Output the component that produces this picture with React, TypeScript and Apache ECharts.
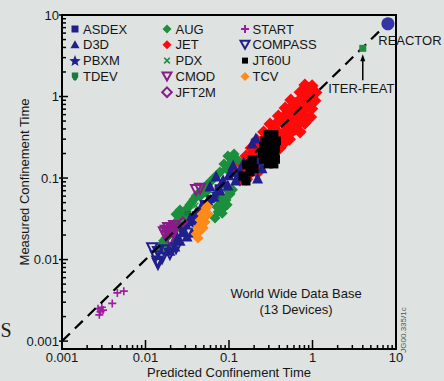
import React, { useEffect, useRef } from 'react';
import * as echarts from 'echarts';

const FONT = '"Liberation Sans", Arial, Helvetica, sans-serif';
const TEXT = '#161616';
const NAVY = '#20208c';
const GREEN = '#1c8f3c';
const RED = '#ff0a0a';
const PURPLE = '#8b1a8b';
const ORANGE = '#ff8a1a';
const BLACK = '#000000';

// axis decades (major ticks / labels) and minor tick multipliers
const DECADES = [0.001, 0.01, 0.1, 1, 10];
const MINOR_STEPS = [2, 3, 4, 5, 6, 7, 8, 9];

// [predicted, measured] confinement times (s)
const JET = [
  [0.81, 1.38], [0.99, 1.36], [0.9, 1.25],
  [0.71, 1.13], [0.87, 1.15], [1.1, 1.12], [0.78, 1.02], [0.97, 1.0],
  [0.55, 0.906], [0.71, 0.92], [0.87, 0.9], [1.07, 0.89], [0.62, 0.82], [0.78, 0.81], [0.95, 0.8],
  [0.47, 0.723], [0.55, 0.74], [0.71, 0.72], [0.85, 0.73], [0.98, 0.71], [0.51, 0.65], [0.63, 0.64], [0.76, 0.65],
  [0.39, 0.576], [0.47, 0.59], [0.55, 0.57], [0.69, 0.58], [0.83, 0.57], [0.95, 0.56], [0.43, 0.52], [0.6, 0.51], [0.74, 0.52],
  [0.31, 0.46], [0.37, 0.47], [0.46, 0.46], [0.53, 0.45], [0.67, 0.46], [0.81, 0.47], [0.35, 0.41], [0.5, 0.41], [0.62, 0.4],
  [0.26, 0.367], [0.32, 0.37], [0.39, 0.36], [0.47, 0.37], [0.55, 0.36], [0.71, 0.367], [0.29, 0.33], [0.43, 0.33],
  [0.215, 0.292], [0.26, 0.3], [0.32, 0.29], [0.39, 0.292], [0.47, 0.29], [0.53, 0.3], [0.24, 0.26], [0.44, 0.26],
  [0.184, 0.233], [0.22, 0.24], [0.27, 0.233], [0.33, 0.23], [0.41, 0.236], [0.2, 0.21],
  [0.16, 0.186], [0.19, 0.19], [0.235, 0.186], [0.285, 0.18], [0.33, 0.19], [0.175, 0.165],
  [0.14, 0.149], [0.166, 0.152], [0.205, 0.149], [0.25, 0.145],
  [0.12, 0.119], [0.15, 0.122], [0.184, 0.119], [0.22, 0.116],
  [0.135, 0.0945], [0.163, 0.097],
];

const JT60U = [
  [0.295, 0.34], [0.345, 0.34],
  [0.27, 0.285], [0.32, 0.285], [0.37, 0.285],
  [0.26, 0.24], [0.31, 0.24], [0.36, 0.24],
  [0.25, 0.2], [0.3, 0.2], [0.356, 0.2],
  [0.26, 0.17], [0.31, 0.17], [0.36, 0.17],
  [0.295, 0.149], [0.345, 0.149],
  [0.163, 0.145], [0.19, 0.166], [0.147, 0.106], [0.178, 0.119], [0.16, 0.092], [0.2, 0.13],
];

const AUG = [
  [0.097, 0.186], [0.115, 0.197], [0.127, 0.166], [0.087, 0.149], [0.103, 0.134],
  [0.078, 0.119], [0.066, 0.1], [0.056, 0.0845], [0.0475, 0.0712], [0.0403, 0.0601],
  [0.036, 0.0505], [0.032, 0.0428], [0.029, 0.0362], [0.0245, 0.0305], [0.022, 0.0258],
  [0.0196, 0.0217], [0.0176, 0.0184], [0.0158, 0.0155], [0.0186, 0.0147], [0.0232, 0.0173],
  [0.0274, 0.023], [0.0259, 0.0406], [0.0232, 0.036],
  [0.108, 0.16], [0.093, 0.13], [0.072, 0.109], [0.061, 0.092], [0.051, 0.077],
  [0.043, 0.065], [0.038, 0.055], [0.034, 0.047], [0.03, 0.04], [0.027, 0.033],
  [0.0235, 0.028], [0.021, 0.024], [0.0185, 0.02], [0.0165, 0.017],
  [0.066, 0.057], [0.078, 0.048], [0.092, 0.0537], [0.074, 0.0383], [0.086, 0.0428],
  [0.103, 0.0637], [0.068, 0.0323], [0.045, 0.06], [0.053, 0.067],
  [0.08, 0.058], [0.095, 0.047], [0.083, 0.037], [0.072, 0.044], [0.11, 0.072], [0.098, 0.07],
  [0.0149, 0.0138], [0.0171, 0.013],
];

const D3D = [
  [0.112, 0.145], [0.135, 0.125], [0.16, 0.106], [0.12, 0.0945], [0.097, 0.082],
  [0.078, 0.0712], [0.066, 0.06], [0.056, 0.0537], [0.049, 0.0453], [0.0403, 0.0383],
  [0.0341, 0.0323], [0.0305, 0.0273], [0.036, 0.0217], [0.0314, 0.0194], [0.0259, 0.0173],
  [0.0225, 0.0147], [0.0196, 0.013], [0.07, 0.106], [0.082, 0.089], [0.0592, 0.0798],
  [0.15, 0.157], [0.178, 0.125], [0.215, 0.166], [0.248, 0.134], [0.22, 0.1],
  [0.19, 0.27], [0.21, 0.31], [0.0425, 0.0305],
  [0.1, 0.11], [0.085, 0.095], [0.13, 0.105], [0.105, 0.12], [0.045, 0.042],
  [0.038, 0.032], [0.028, 0.022], [0.024, 0.019],
];

const ASDEX = [[0.05, 0.048], [0.06, 0.055], [0.075, 0.075], [0.04, 0.035], [0.028, 0.024]];
const PBXM = [[0.045, 0.04], [0.07, 0.065], [0.035, 0.028]];
const TDEV = [[0.02, 0.02], [0.026, 0.026], [0.032, 0.036]];
const PDX = [[0.023, 0.028], [0.03, 0.033], [0.04, 0.046]];
const JFT2M = [[0.021, 0.024], [0.028, 0.029]];
const CMOD = [
  [0.0176, 0.0194], [0.021, 0.0217], [0.0186, 0.0244], [0.022, 0.0258],
  [0.0196, 0.0173], [0.0166, 0.0217], [0.045, 0.074], [0.0403, 0.0712],
  [0.019, 0.021], [0.0205, 0.0235], [0.0175, 0.0225], [0.023, 0.024],
];
const COMPASS = [
  [0.012, 0.0138], [0.0141, 0.0124], [0.0166, 0.013], [0.0196, 0.0117], [0.0141, 0.0093],
  [0.0232, 0.0138], [0.0133, 0.011], [0.0158, 0.0104], [0.0141, 0.0088], [0.0138, 0.0095],
];
const TCV = [
  [0.053, 0.0428], [0.0475, 0.0362], [0.056, 0.0362], [0.045, 0.0305], [0.0516, 0.0288],
  [0.0425, 0.0244], [0.049, 0.0244], [0.0403, 0.0206], [0.0425, 0.0184], [0.055, 0.045],
  [0.05, 0.033], [0.046, 0.027], [0.044, 0.022], [0.052, 0.039],
];
const START = [
  [0.0027, 0.0025], [0.0029, 0.0023], [0.0031, 0.0024], [0.0028, 0.0021],
  [0.003, 0.0026], [0.004, 0.0029], [0.0046, 0.0039], [0.0055, 0.0041],
];
const REACTOR = [[8, 7.8]];
const ITER = [[4, 3.9]];
const IDENTITY = [[0.001, 0.001], [10, 10]];

const LEGEND_COL1 = ['ASDEX', 'D3D', 'PBXM', 'TDEV'];
const LEGEND_COL2 = ['AUG', 'JET', 'PDX', 'CMOD', 'JFT2M'];
const LEGEND_COL3 = ['START', 'COMPASS', 'JT60U', 'TCV'];

const STAR = 'path://M5,0 L6.2,3.6 L10,3.6 L6.9,5.9 L8.1,9.5 L5,7.3 L1.9,9.5 L3.1,5.9 L0,3.6 L3.8,3.6 Z';
const SHIELD = 'path://M0,0 L10,0 L10,5 Q10,9 5,11 Q0,9 0,5 Z';
const CROSS = 'path://M0,1.4 L1.4,0 L5,3.6 L8.6,0 L10,1.4 L6.4,5 L10,8.6 L8.6,10 L5,6.4 L1.4,10 L0,8.6 L3.6,5 Z';
const PLUS = 'path://M4,0 L6,0 L6,4 L10,4 L10,6 L6,6 L6,10 L4,10 L4,6 L0,6 L0,4 L4,4 Z';
const DOWN_TRI = 'path://M0,0 L10,0 L5,9 Z';

function sc(name: string, data: number[][], symbol: string, size: number, color: string, open = false, z = 2) {
  return {
    type: 'scatter',
    name,
    data,
    symbol,
    symbolSize: size,
    silent: true,
    z,
    itemStyle: open
      ? { color: 'rgba(0,0,0,0)', borderColor: color, borderWidth: 2, opacity: 1 }
      : { color, opacity: 1, borderWidth: 0 },
  };
}

const isDecade = (v: number) => {
  const l = Math.log10(v);
  return Math.abs(l - Math.round(l)) < 1e-6;
};
const labelFmt = (v: number) => (isDecade(v) ? String(Number(v.toPrecision(6))) : '');

// legend icon drawing (shape + colour per device)
function legendIcon(name: string, cx: number, cy: number): any[] {
  const poly = (pts: number[][], fill: string, stroke?: string) => ({
    type: 'polygon', shape: { points: pts },
    style: stroke ? { fill: 'none', stroke, lineWidth: 2 } : { fill },
  });
  const diamond = (r: number) => [[cx, cy - r], [cx + r, cy], [cx, cy + r], [cx - r, cy]];
  const downTri = [[cx - 4.5, cy - 4], [cx + 4.5, cy - 4], [cx, cy + 4]];
  switch (name) {
    case 'ASDEX': return [{ type: 'rect', shape: { x: cx - 3.5, y: cy - 3.5, width: 7, height: 7 }, style: { fill: NAVY } }];
    case 'JT60U': return [{ type: 'rect', shape: { x: cx - 3, y: cy - 3, width: 6, height: 6 }, style: { fill: BLACK } }];
    case 'D3D': return [poly([[cx, cy - 4.5], [cx + 4.5, cy + 3.5], [cx - 4.5, cy + 3.5]], NAVY)];
    case 'PBXM': {
      const pts: number[][] = [];
      for (let k = 0; k < 10; k++) {
        const r = k % 2 === 0 ? 6 : 2.6;
        const a = -Math.PI / 2 + (k * Math.PI) / 5;
        pts.push([cx + r * Math.cos(a), cy + 0.5 + r * Math.sin(a)]);
      }
      return [poly(pts, NAVY)];
    }
    case 'TDEV': return [poly([[cx - 3.2, cy - 4], [cx + 3.2, cy - 4], [cx + 3.2, cy + 0.5], [cx + 1.8, cy + 3], [cx, cy + 4.5], [cx - 1.8, cy + 3], [cx - 3.2, cy + 0.5]], '#1a7a40')];
    case 'AUG': return [poly(diamond(4.5), GREEN)];
    case 'JET': return [poly(diamond(4.5), RED)];
    case 'TCV': return [poly(diamond(4.5), ORANGE)];
    case 'PDX': return [
      { type: 'line', shape: { x1: cx - 2.8, y1: cy - 2.8, x2: cx + 2.8, y2: cy + 2.8 }, style: { stroke: GREEN, lineWidth: 1.6 } },
      { type: 'line', shape: { x1: cx - 2.8, y1: cy + 2.8, x2: cx + 2.8, y2: cy - 2.8 }, style: { stroke: GREEN, lineWidth: 1.6 } },
    ];
    case 'CMOD': return [poly(downTri, '', PURPLE)];
    case 'COMPASS': return [poly(downTri, '', NAVY)];
    case 'JFT2M': return [poly(diamond(4.8), '', PURPLE)];
    case 'START': return [
      { type: 'line', shape: { x1: cx - 4, y1: cy, x2: cx + 4, y2: cy }, style: { stroke: '#a01ca0', lineWidth: 2 } },
      { type: 'line', shape: { x1: cx, y1: cy - 4, x2: cx, y2: cy + 4 }, style: { stroke: '#a01ca0', lineWidth: 2 } },
    ];
    default: return [];
  }
}

export default function App() {
  const ref = useRef<HTMLDivElement>(null);
  useEffect(() => {
    const chart = echarts.init(ref.current!, null, { renderer: 'svg' });

    const ticks: number[][] = [];
    DECADES.forEach((d, i) => {
      ticks.push([d, d, 1, 1]);
      ticks.push([d, d, 0, 1]);
      if (i < DECADES.length - 1) {
        MINOR_STEPS.forEach((m) => {
          const v = Number((d * m).toPrecision(6));
          ticks.push([v, v, 1, 0]);
          ticks.push([v, v, 0, 0]);
        });
      }
    });

    // legend laid out as three columns
    const legendEls: any[] = [];
    const cols = [
      { names: LEGEND_COL1, icon: 75, text: 83 },
      { names: LEGEND_COL2, icon: 167, text: 175.5 },
      { names: LEGEND_COL3, icon: 245, text: 252.5 },
    ];
    cols.forEach((c, ci) => {
      c.names.forEach((n, ri) => {
        const cy = 29 + ri * 15.8;
        legendEls.push({
          type: 'group', id: `lg-${ci}-${ri}`,
          children: [
            ...legendIcon(n, c.icon, cy),
            { type: 'text', x: c.text, y: cy, style: { text: n, fontFamily: FONT, fontSize: 13, fill: TEXT, align: 'left', verticalAlign: 'middle' } },
          ],
        });
      });
    });

    const option: any = {
      animation: false,
      backgroundColor: '#dee2e1',
      textStyle: { fontFamily: FONT },
      grid: {
        left: 62, right: 48, top: 15, bottom: 32,
        show: true, borderColor: '#000', borderWidth: 2, backgroundColor: 'transparent',
        outerBoundsMode: 'none',
      },
      xAxis: {
        type: 'log', logBase: 10, min: 0.001, max: 10,
        name: 'Predicted Confinement Time', nameLocation: 'middle', nameGap: 17, nameMoveOverlap: false,
        nameTextStyle: { fontFamily: FONT, fontSize: 13, color: TEXT },
        axisLine: { show: false }, axisTick: { show: false }, splitLine: { show: false },
        axisLabel: { formatter: labelFmt, margin: 2, fontFamily: FONT, fontSize: 13, color: TEXT },
      },
      yAxis: {
        type: 'log', logBase: 10, min: 0.0008, max: 10,
        name: 'Measured Confinement Time', nameLocation: 'middle', nameGap: 31, nameMoveOverlap: false,
        nameTextStyle: { fontFamily: FONT, fontSize: 13, color: TEXT },
        axisLine: { show: false }, axisTick: { show: false }, splitLine: { show: false },
        axisLabel: { formatter: labelFmt, margin: 3, fontFamily: FONT, fontSize: 13, color: TEXT },
      },
      series: [
        sc('JET', JET, 'diamond', 13, RED),
        sc('AUG', AUG, 'diamond', 11, GREEN),
        sc('TDEV', TDEV, SHIELD, 7, '#1a7a40'),
        sc('PDX', PDX, CROSS, 6, GREEN),
        sc('D3D', D3D, 'triangle', 11, NAVY),
        sc('ASDEX', ASDEX, 'rect', 8, NAVY),
        sc('PBXM', PBXM, STAR, 11, NAVY),
        sc('JT60U', JT60U, 'rect', 9, BLACK),
        sc('TCV', TCV, 'diamond', 11, ORANGE),
        sc('CMOD', CMOD, DOWN_TRI, 10, PURPLE, true),
        sc('JFT2M', JFT2M, 'diamond', 9, PURPLE, true),
        sc('COMPASS', COMPASS, DOWN_TRI, 10, NAVY, true),
        sc('START', START, PLUS, 8, '#a01ca0'),
        {
          type: 'scatter', name: 'REACTOR', data: REACTOR, symbol: 'circle', symbolSize: 13,
          silent: true, z: 6, itemStyle: { color: '#3434a2', opacity: 1 },
          label: { show: true, formatter: 'REACTOR', position: 'inside', offset: [22, 17],
            fontFamily: FONT, fontSize: 13, color: TEXT },
        },
        {
          type: 'scatter', name: 'ITER-FEAT', data: ITER, symbol: 'rect', symbolSize: 7,
          silent: true, z: 6, itemStyle: { color: '#1a9040', opacity: 1 },
          label: { show: true, formatter: 'ITER-FEAT', position: 'inside', offset: [-1.5, 40],
            fontFamily: FONT, fontSize: 13, color: TEXT },
        },
        {
          type: 'line', name: 'identity', data: IDENTITY, showSymbol: false, silent: true, z: 4,
          lineStyle: { color: '#000', width: 2.2, type: [11, 7] },
        },
        {
          type: 'custom', name: 'ticks', data: ticks, silent: true, z: 5, clip: false,
          renderItem: (params: any, api: any) => {
            const v = api.value(0);
            const isX = api.value(2) === 1;
            const major = api.value(3) === 1;
            const cs = params.coordSys;
            if (isX) {
              const px = api.coord([v, 1])[0];
              const b = cs.y + cs.height;
              return { type: 'line', shape: { x1: px, y1: b, x2: px, y2: b - (major ? 9 : 4) },
                style: { stroke: '#000', lineWidth: 1.5 } };
            }
            const py = api.coord([1, v])[1];
            const l = cs.x;
            return { type: 'line', shape: { x1: l - (major ? 3 : 0), y1: py, x2: l + (major ? 6 : 4), y2: py },
              style: { stroke: '#000', lineWidth: 1.5 } };
          },
        },
      ],
      graphic: {
        elements: [
          ...legendEls,
          { id: 'wwdb1', type: 'text', x: 296, y: 293, style: { text: 'World Wide Data Base', fontFamily: FONT, fontSize: 13, fill: TEXT, align: 'center', verticalAlign: 'middle' } },
          { id: 'wwdb2', type: 'text', x: 296, y: 309, style: { text: '(13 Devices)', fontFamily: FONT, fontSize: 13, fill: TEXT, align: 'center', verticalAlign: 'middle' } },
          { id: 'jg', type: 'text', x: 403, y: 330, rotation: Math.PI / 2, style: { text: 'JG00.335/1c', fontFamily: FONT, fontSize: 8, fill: '#555', align: 'center', verticalAlign: 'middle' } },
          { id: 'sfrag', type: 'text', x: 6, y: 330, style: { text: 'S', fontFamily: '"Liberation Serif", "DejaVu Serif", serif', fontSize: 20, fill: '#222', align: 'center', verticalAlign: 'middle' } },
        ],
      },
    };
    chart.setOption(option);

    const p = chart.convertToPixel({ gridIndex: 0 }, ITER[0]) as number[];
    if (p) {
      chart.setOption({
        graphic: {
          elements: [
            { id: 'arrowLine', type: 'line', shape: { x1: p[0], y1: p[1] + 10, x2: p[0], y2: p[1] + 32 }, style: { stroke: '#000', lineWidth: 1.5 } },
            { id: 'arrowHead', type: 'polygon', shape: { points: [[p[0], p[1] + 6], [p[0] - 2.5, p[1] + 13], [p[0] + 2.5, p[1] + 13]] }, style: { fill: '#000' } },
          ],
        },
      });
    }
    return () => chart.dispose();
  }, []);
  return <div ref={ref} style={{ position: 'fixed', left: 0, top: 0, width: 444, height: 381 }} />;
}
